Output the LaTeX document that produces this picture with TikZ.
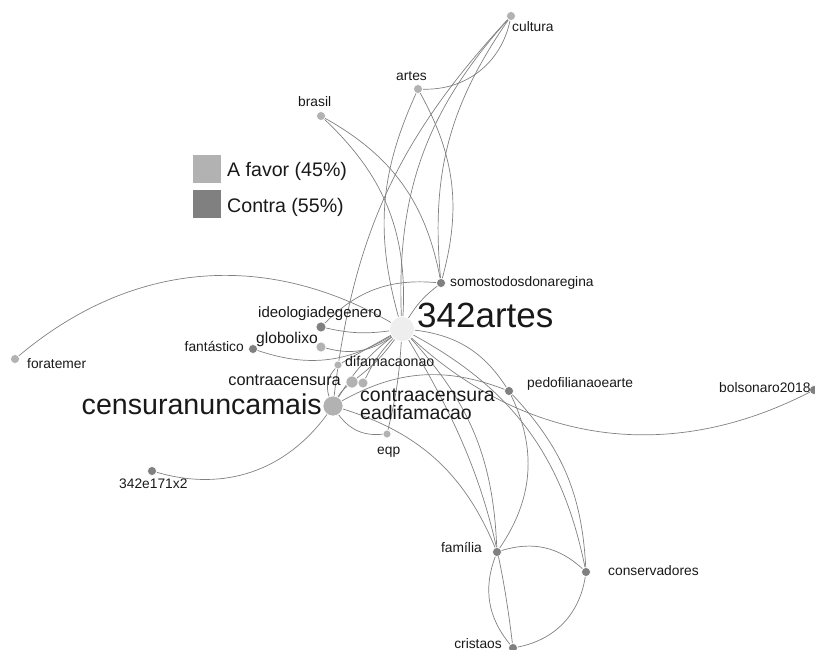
\documentclass[tikz,border=0pt]{standalone}
\usepackage{fontspec}
\setmainfont{Liberation Sans}
\usetikzlibrary{positioning}
\definecolor{favorgray}{RGB}{178,178,178}
\definecolor{contragray}{RGB}{128,128,128}
\definecolor{hubfill}{RGB}{238,238,238}
\definecolor{edgegray}{RGB}{128,128,128}
\definecolor{txt}{RGB}{25,25,25}
\pgfdeclarelayer{edges}
\pgfsetlayers{edges,main}
\tikzset{
  afavor/.style={circle, fill=favorgray, draw=white, line width=0.6pt, inner sep=0pt, minimum size=#1},
  contra/.style={circle, fill=contragray, draw=white, line width=0.6pt, inner sep=0pt, minimum size=#1},
  tag/.style={text=txt, inner sep=0pt, font=\fontsize{13.8}{16}\selectfont},
  link/.style={draw=edgegray, line width=0.7pt},
}

\begin{document}
\begin{tikzpicture}[x=1pt,y=1pt]
\useasboundingbox (0,-650) rectangle (815,0);

% hashtags
\node[circle, fill=hubfill, draw=white, line width=0.6pt, inner sep=0pt, minimum size=25pt] (artes342) at (402,-329) {};
\node[afavor=20pt] (cnm) at (333,-406) {};
\node[afavor=12pt] (caa) at (352,-382) {};
\node[afavor=10pt] (caad) at (363,-383) {};
\node[afavor=8pt] (dfn) at (338,-365) {};
\node[afavor=10pt] (glx) at (321,-347) {};
\node[contra=10pt] (idg) at (321,-327) {};
\node[contra=9pt] (fan) at (253,-349) {};
\node[afavor=9pt] (ftm) at (15,-359) {};
\node[contra=9pt] (e171) at (152,-471) {};
\node[afavor=8pt] (eqp) at (387,-434) {};
\node[contra=9pt] (sdr) at (441,-283) {};
\node[contra=9pt] (pne) at (509,-391) {};
\node[contra=9pt] (bol) at (814,-390) {};
\node[contra=9pt] (fam) at (497,-552) {};
\node[contra=9pt] (cons) at (586,-572) {};
\node[contra=9pt] (cri) at (513,-648) {};
\node[afavor=9pt] (cult) at (511,-16) {};
\node[afavor=9pt] (art) at (418,-89) {};
\node[afavor=9pt] (bra) at (321,-116) {};

% labels
\node[tag, anchor=base west, font=\fontsize{35}{40}\selectfont] (artes342-t) at (417,-327) {342artes};
\node[tag, anchor=base east, font=\fontsize{28.6}{32}\selectfont] (cnm-t) at (322,-414) {censuranuncamais};
\node[tag, anchor=base east, font=\fontsize{16.3}{18}\selectfont] (caa-t) at (341,-385) {contraacensura};
\node[tag, anchor=base west, font=\fontsize{19.5}{18}\selectfont] (caad-t) at (360,-401) {contraacensura};
\node[tag, anchor=base west, font=\fontsize{19.5}{18}\selectfont] (caad-t2) at (360,-419) {eadifamacao};
\node[tag, anchor=base west, font=\fontsize{14.2}{16}\selectfont] (dfn-t) at (345,-366) {difamacaonao};
\node[tag, anchor=base east, font=\fontsize{15.6}{18}\selectfont] (glx-t) at (318,-343) {globolixo};
\node[tag, anchor=base west, font=\fontsize{15}{18}\selectfont] (idg-t) at (258,-317) {ideologiadegenero};
\node[tag, anchor=base east] (fan-t) at (244,-352) {fantástico};
\node[tag, anchor=base west] (ftm-t) at (27,-368) {foratemer};
\node[tag, anchor=base west] (e171-t) at (119,-488) {342e171x2};
\node[tag, anchor=base west] (eqp-t) at (377,-454) {eqp};
\node[tag, anchor=base west] (sdr-t) at (450,-287) {somostodosdonaregina};
\node[tag, anchor=base west] (pne-t) at (527,-387) {pedofilianaoearte};
\node[tag, anchor=base west] (bol-t) at (719,-392) {bolsonaro2018};
\node[tag, anchor=base east] (fam-t) at (482,-552) {família};
\node[tag, anchor=base west] (cons-t) at (608,-575) {conservadores};
\node[tag, anchor=base east] (cri-t) at (502,-648) {cristaos};
\node[tag, anchor=base west] (cult-t) at (512,-32) {cultura};
\node[tag, anchor=base west] (art-t) at (396,-81) {artes};
\node[tag, anchor=base west] (bra-t) at (298,-107) {brasil};

% legend
\node[rectangle, fill=favorgray, inner sep=0pt, minimum size=28pt] (lgfav) at (207,-169) {};
\node[rectangle, fill=contragray, inner sep=0pt, minimum size=28pt] (lgcon) at (207,-204) {};
\node[tag, anchor=base west, font=\fontsize{19.6}{22}\selectfont] (lgfav-t) at (227,-177) {A favor (45\%)};
\node[tag, anchor=base west, font=\fontsize{19.6}{22}\selectfont] (lgcon-t) at (227,-213) {Contra (55\%)};

\begin{pgfonlayer}{edges}
\draw[link] (artes342) to[bend left=22] (cult);
\draw[link] (cnm) to[bend left=18] (cult);
\draw[link] (art) to[bend right=40] (cult);
\draw[link] (sdr) to[bend left=20] (cult);
\draw[link] (artes342) to[bend left=20] (art);
\draw[link] (art) to[bend left=22] (sdr);
\draw[link] (bra) to[bend left=25] (artes342);
\draw[link] (bra) to[bend left=25] (sdr);
\draw[link] (artes342) to[bend right=35] (ftm);
\draw[link] (artes342) to[bend left=10] (idg);
\draw[link] (glx) to[bend right=25] (artes342);
\draw[link] (artes342) to[bend left=25] (fan);
\draw[link] (sdr) to[bend right=25] (idg);
\draw[link] (artes342) to[bend left=10] (sdr);
\draw[link] (artes342) to (dfn);
\draw[link] (artes342) to[bend left=8] (caa);
\draw[link] (artes342) to[bend right=8] (caad);
\draw[link] (artes342) to[bend right=10] (cnm);
\draw[link] (artes342) to[bend left=5] (eqp);
\draw[link] (cnm) to[bend left=30] (dfn);
\draw[link] (cnm) to[bend left=10] (caa);
\draw[link] (cnm) to[bend right=30] (eqp);
\draw[link] (e171) to[bend right=35] (cnm);
\draw[link] (artes342) to[bend left=25] (pne);
\draw[link] (cnm) to[bend left=25] (pne);
\draw[link] (artes342) to[bend right=35] (bol);
\draw[link] (artes342) to[bend left=20] (fam);
\draw[link] (cnm) to[bend left=25] (fam);
\draw[link] (pne) to[bend left=30] (fam);
\draw[link] (artes342) to[bend left=12] (cri);
\draw[link] (artes342) to[bend left=25] (cons);
\draw[link] (pne) to[bend left=20] (cons);
\draw[link] (fam) to[bend right=30] (cri);
\draw[link] (fam) to[bend left=30] (cons);
\draw[link] (cons) to[bend left=35] (cri);
\end{pgfonlayer}
\end{tikzpicture}
\end{document}
